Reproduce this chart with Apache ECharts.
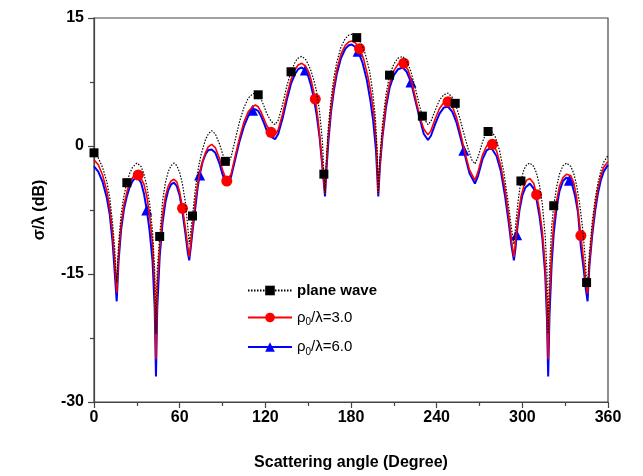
<!DOCTYPE html>
<html>
<head>
<meta charset="utf-8">
<script src="https://cdn.jsdelivr.net/npm/echarts@6/dist/echarts.min.js"></script>
<style>
html,body{margin:0;padding:0;background:#fff;}
#chart{width:643px;height:476px;}
</style>
</head>
<body>
<div id="chart"></div>
<script>
// ---- data (angle in degrees, sigma/lambda in dB) ----
var seriesNames = ['plane wave', 'ρ0/λ=3.0', 'ρ0/λ=6.0'];
var xTicks = [0, 60, 120, 180, 240, 300, 360];
var yTicks = [-30, -15, 0, 15];

var planeWave = [[0,-0.8],[3,-1.4],[6,-2.5],[9,-4.2],[11,-6.0],[13,-9.0],[14.5,-12.0],[15.9,-16.0],[17.2,-11.5],[19,-8.0],[21,-5.8],[23,-4.3],[25,-3.2],[27,-2.5],[30,-2.0],[33,-2.4],[35,-3.3],[37,-4.7],[39,-6.8],[41,-10.0],[42.5,-14.5],[43.4,-22.0],[44.3,-14.5],[46,-10.6],[48,-6.5],[50,-4.3],[52,-3.0],[54,-2.3],[56,-2.0],[58,-2.3],[60,-3.1],[62,-4.5],[64,-6.6],[65.7,-9.5],[66.7,-11.5],[67.7,-10.0],[69,-8.2],[71,-5.0],[73,-2.7],[75,-1.0],[78,0.7],[80,1.4],[82.4,1.8],[85,1.4],[88,0.2],[90,-0.9],[92,-1.8],[94,-2.1],[96,-1.3],[99,0.8],[102,2.9],[105,4.5],[108,5.6],[111,6.1],[113,6.2],[115,6.0],[117,5.5],[119,4.7],[121,3.8],[124,2.9],[126.8,2.5],[129,3.0],[132,4.8],[135,7.0],[138,8.7],[141,9.9],[143,10.3],[145.4,10.5],[148,10.2],[150,9.6],[152,8.8],[154,7.7],[156,6.3],[158,4.0],[160,0.5],[161,-3.3],[161.8,-5.5],[162.6,-2.0],[164,2.0],[166,5.5],[168,8.0],[170,9.8],[173,11.6],[176,12.6],[178.5,13.0],[180.5,13.1],[183,12.9],[184,12.7],[187,12.1],[190,10.8],[193,8.8],[195,6.6],[197,3.5],[198.3,-0.5],[199.1,-5.5],[200,-1.8],[202,2.5],[204.5,6.0],[207,8.3],[210,9.6],[213,10.3],[216.2,10.5],[219,10.0],[222,8.7],[225,6.8],[228,4.7],[230,3.5],[233.9,2.5],[236,2.9],[239,4.2],[242,5.4],[245,6.0],[248,6.2],[251,5.7],[253,5.0],[256,3.4],[259,1.5],[262,-0.3],[264.5,-1.6],[266.8,-2.1],[269,-1.3],[272,0.4],[274,1.3],[276,1.7],[278,1.8],[281,1.1],[284,-0.5],[287,-3.0],[290,-6.5],[292.5,-9.8],[294.1,-11.5],[295.5,-9.0],[297,-6.5],[299,-4.1],[301,-2.8],[303,-2.2],[305.3,-2.0],[308,-2.4],[310,-3.2],[312,-4.6],[314,-6.8],[316,-10.5],[317.2,-14.5],[318.1,-22.0],[319,-14.5],[320.5,-9.5],[322,-7.0],[324,-4.8],[326,-3.3],[328.5,-2.3],[331,-2.0],[334,-2.4],[336,-3.2],[338,-4.6],[340,-6.6],[342,-9.3],[344,-13.0],[345,-16.0],[345.7,-16.5],[347,-12.5],[349,-8.8],[351,-6.2],[353,-4.3],[355,-2.9],[357,-1.9],[360,-1.1]];

var rho3 = [[0,-1.6],[3,-2.2],[6,-3.4],[9,-5.3],[11,-7.2],[13,-10.2],[14.5,-13.5],[15.9,-17.2],[17.2,-12.8],[19,-9.2],[21,-6.9],[23,-5.4],[25,-4.3],[27,-3.7],[29,-3.3],[31,-3.4],[33,-3.8],[35,-4.5],[37,-5.9],[39,-8.2],[41,-11.5],[42.5,-16.5],[43.4,-25.0],[44.3,-16.5],[46,-12.0],[48,-8.2],[50,-5.9],[52,-4.7],[54,-4.1],[56,-3.9],[58,-4.2],[60,-5.4],[62,-7.3],[64,-9.6],[65.7,-11.8],[66.7,-13.0],[67.7,-11.5],[69,-9.5],[71,-6.4],[73,-4.0],[75,-2.4],[78,-0.8],[80,-0.1],[82.4,0.2],[85,-0.2],[88,-1.5],[90,-2.8],[93,-4.1],[94,-4.2],[96,-3.3],[99,-1.1],[102,1.0],[105,2.8],[108,4.0],[111,4.6],[113,4.8],[115,4.6],[117,4.0],[119,3.2],[121,2.4],[124,1.6],[126.8,1.3],[129,1.9],[132,3.7],[135,5.9],[138,7.8],[141,9.0],[143,9.5],[145.4,9.7],[148,9.4],[150,8.8],[152,7.8],[155,5.5],[157,3.0],[159,-0.5],[160.6,-3.5],[161.8,-5.6],[162.8,-2.2],[164,1.0],[166,4.5],[168,7.0],[170,8.9],[173,10.8],[176,11.8],[178.5,12.2],[180.5,12.3],[183,12.1],[186,11.4],[189,10.1],[192,8.0],[194,6.2],[196,3.8],[197.8,0.2],[199.1,-5.6],[200.2,-2.2],[202,1.4],[204.5,5.0],[207,7.3],[210,8.8],[213,9.6],[216.2,9.8],[217,9.7],[220,8.9],[223,7.2],[226,5.0],[229,3.0],[231,2.0],[233.9,1.3],[236,1.8],[239,3.2],[242,4.4],[245,5.1],[248,5.2],[251,4.6],[254,3.3],[257,1.3],[260,-0.9],[263,-2.8],[266.8,-4.0],[269,-3.0],[272,-1.1],[275,0.0],[277,0.3],[279,0.2],[282,-0.6],[285,-2.4],[288,-5.2],[290.5,-8.3],[292.5,-11.2],[294.1,-13.0],[295.5,-10.8],[297,-8.3],[299,-6.0],[301,-4.7],[303,-4.0],[305.3,-3.8],[308,-4.4],[310,-5.7],[312,-7.5],[314,-10.0],[316,-14.0],[317.2,-18.5],[318.1,-25.0],[319,-18.0],[320.5,-12.5],[322,-9.0],[324,-6.4],[326,-4.7],[328.5,-3.7],[331,-3.3],[334,-3.5],[336,-4.3],[338,-6.0],[341,-10.5],[343,-13.5],[344.5,-16.0],[345.7,-17.3],[347,-13.5],[349,-9.8],[351,-7.0],[353,-4.9],[355,-3.5],[357,-2.5],[360,-1.8]];

var rho6 = [[0,-2.4],[3,-3.0],[6,-4.2],[9,-6.1],[11,-8.0],[13,-11.2],[14.5,-14.8],[15.9,-18.2],[17.2,-13.5],[19,-9.8],[21,-7.4],[23,-5.9],[25,-4.8],[27,-4.1],[29,-3.7],[31,-3.8],[33,-4.3],[35,-5.6],[37,-7.5],[39,-10.0],[41,-13.5],[42.5,-19.0],[43.4,-27.0],[44.3,-19.0],[46,-13.0],[48,-9.0],[50,-6.6],[52,-5.2],[54,-4.5],[56,-4.3],[58,-4.7],[60,-5.8],[62,-7.8],[64,-10.2],[65.7,-12.5],[66.7,-13.4],[67.7,-12.0],[69,-10.0],[71,-7.2],[72.5,-5.0],[74,-3.4],[76,-1.9],[78,-1.0],[80,-0.5],[82.4,-0.4],[85,-0.8],[88,-2.1],[90,-3.3],[92,-4.2],[94,-4.4],[96,-3.6],[99,-1.5],[102,0.6],[105,2.3],[108,3.5],[111,4.2],[113,4.3],[115,4.1],[117,3.5],[119,2.7],[121,1.8],[124,1.1],[126.8,0.8],[129,1.4],[132,3.2],[135,5.4],[138,7.3],[141,8.5],[143,9.0],[145.4,9.2],[148,8.9],[150,8.2],[152,7.1],[154,5.6],[156,3.6],[158,1.0],[160,-2.5],[161.8,-5.9],[162.9,-2.5],[164.2,0.6],[166,4.0],[168,6.5],[170,8.4],[173,10.3],[176,11.4],[178.5,11.8],[180.5,11.9],[183,11.6],[185,11.1],[188,9.8],[191,7.8],[193.5,5.4],[195.5,3.0],[197.5,-0.5],[199.1,-5.9],[200.2,-2.5],[202,1.0],[204.5,4.5],[207,6.8],[210,8.3],[213,9.0],[216.2,9.2],[219,8.7],[222,7.5],[225,5.4],[228,3.3],[231,1.4],[233.9,0.7],[236,1.2],[239,2.6],[242,3.8],[245,4.5],[248,4.6],[251,4.0],[254,2.7],[257,0.8],[259,-0.5],[261,-1.9],[263,-3.2],[266.8,-4.4],[269,-3.5],[272,-1.6],[275,-0.5],[277,-0.3],[279,-0.4],[282,-1.2],[285,-3.0],[288,-6.0],[290.5,-9.0],[292.5,-11.8],[294.1,-13.4],[295.2,-12.0],[296,-10.4],[298,-7.5],[300,-5.8],[302,-4.9],[305.3,-4.4],[308,-5.0],[310,-6.3],[312,-8.2],[314,-10.8],[316,-15.0],[317.2,-20.0],[318.1,-27.0],[319,-20.0],[320.5,-14.0],[322,-10.2],[324,-7.2],[326,-5.3],[328.5,-4.1],[331,-3.7],[333,-4.0],[335,-4.6],[337,-5.9],[339,-7.8],[341,-11.8],[343,-14.5],[344.5,-16.8],[345.7,-18.2],[347,-14.0],[349,-10.4],[351,-7.6],[353,-5.5],[355,-4.0],[357,-3.0],[360,-2.2]];

// angles at which each curve carries a marker
var planeMarkers = [0,23,46,69,92,115,138,161,184,207,230,253,276,299,322,345];
var rho3Markers = [31,62,93,124,155,186,217,248,279,310,341];
var rho6Markers = [37,74,111,148,185,222,259,296,333];

function withMarkers(pairs, marks) {
  return pairs.map(function (p) {
    if (marks.indexOf(p[0]) >= 0) return { value: p };
    return { value: p, symbol: 'none' };
  });
}

var chart = echarts.init(document.getElementById('chart'), null, { renderer: 'canvas' });
var font = 'Arial, "Liberation Sans", Helvetica, sans-serif';

chart.setOption({
  animation: false,
  backgroundColor: '#fff',
  textStyle: { fontFamily: font },
  grid: {
    left: 94, right: 35, top: 18, bottom: 74,
    show: true, borderColor: '#444', borderWidth: 1.2, backgroundColor: 'transparent'
  },
  legend: {
    data: seriesNames,
    orient: 'vertical',
    left: 242, top: 278,
    itemWidth: 44, itemHeight: 12, itemGap: 12,
    textStyle: {
      color: '#000', fontFamily: font,
      rich: {
        b: { fontSize: 15, fontWeight: 'bold', color: '#000', fontFamily: font },
        n: { fontSize: 15, color: '#000', fontFamily: font },
        s: { fontSize: 10, color: '#000', fontFamily: font, padding: [10, 0, 0, 0] }
      }
    },
    formatter: function (name) {
      if (name === seriesNames[0]) return '{b|plane wave}';
      var parts = name.split('0');
      return '{n|' + parts[0] + '}{s|0}{n|' + parts.slice(1).join('0') + '}';
    }
  },
  xAxis: {
    type: 'value', min: 0, max: 360, interval: 60,
    name: 'Scattering angle (Degree)', nameLocation: 'middle', nameGap: 53,
    nameTextStyle: { fontSize: 16, fontWeight: 'bold', color: '#000', fontFamily: font },
    axisLine: { show: true, onZero: false, lineStyle: { color: '#444', width: 1.2 } },
    axisTick: { show: true, inside: false, length: 6, lineStyle: { color: '#444', width: 1.2 } },
    minorTick: { show: true, splitNumber: 2, length: 4, lineStyle: { color: '#444', width: 1.2 } },
    axisLabel: { fontSize: 16, fontWeight: 'bold', color: '#000', margin: 8, fontFamily: font,
      formatter: function (v) { return xTicks.indexOf(v) >= 0 ? String(v) : ''; } },
    splitLine: { show: false }
  },
  yAxis: {
    type: 'value', min: -30, max: 15, interval: 15,
    name: 'σ/λ (dB)', nameLocation: 'middle', nameGap: 46, nameRotate: 90,
    nameTextStyle: { fontSize: 16, fontWeight: 'bold', color: '#000', fontFamily: font },
    axisLine: { show: true, onZero: false, lineStyle: { color: '#444', width: 1.2 } },
    axisTick: { show: true, inside: false, length: 6, lineStyle: { color: '#444', width: 1.2 } },
    minorTick: { show: true, splitNumber: 2, length: 4, lineStyle: { color: '#444', width: 1.2 } },
    axisLabel: { fontSize: 16, fontWeight: 'bold', color: '#000', margin: 10, fontFamily: font,
      formatter: function (v) { return yTicks.indexOf(v) >= 0 ? String(v) : ''; } },
    splitLine: { show: false }
  },
  series: [
    {
      name: seriesNames[0], type: 'line', z: 4,
      data: withMarkers(planeWave, planeMarkers),
      symbol: 'rect', symbolSize: 9, showSymbol: true, showAllSymbol: true,
      lineStyle: { color: '#000', width: 1.2, type: [1.5, 1.5] },
      itemStyle: { color: '#000' }
    },
    {
      name: seriesNames[1], type: 'line', z: 3,
      data: withMarkers(rho3, rho3Markers),
      symbol: 'circle', symbolSize: 11, showSymbol: true, showAllSymbol: true,
      lineStyle: { color: '#ff0000', width: 1.6 },
      itemStyle: { color: '#ff0000' }
    },
    {
      name: seriesNames[2], type: 'line', z: 2,
      data: withMarkers(rho6, rho6Markers),
      symbol: 'triangle', symbolSize: 11, showSymbol: true, showAllSymbol: true,
      lineStyle: { color: '#0000ff', width: 2 },
      itemStyle: { color: '#0000ff' }
    }
  ]
});
</script>
</body>
</html>
